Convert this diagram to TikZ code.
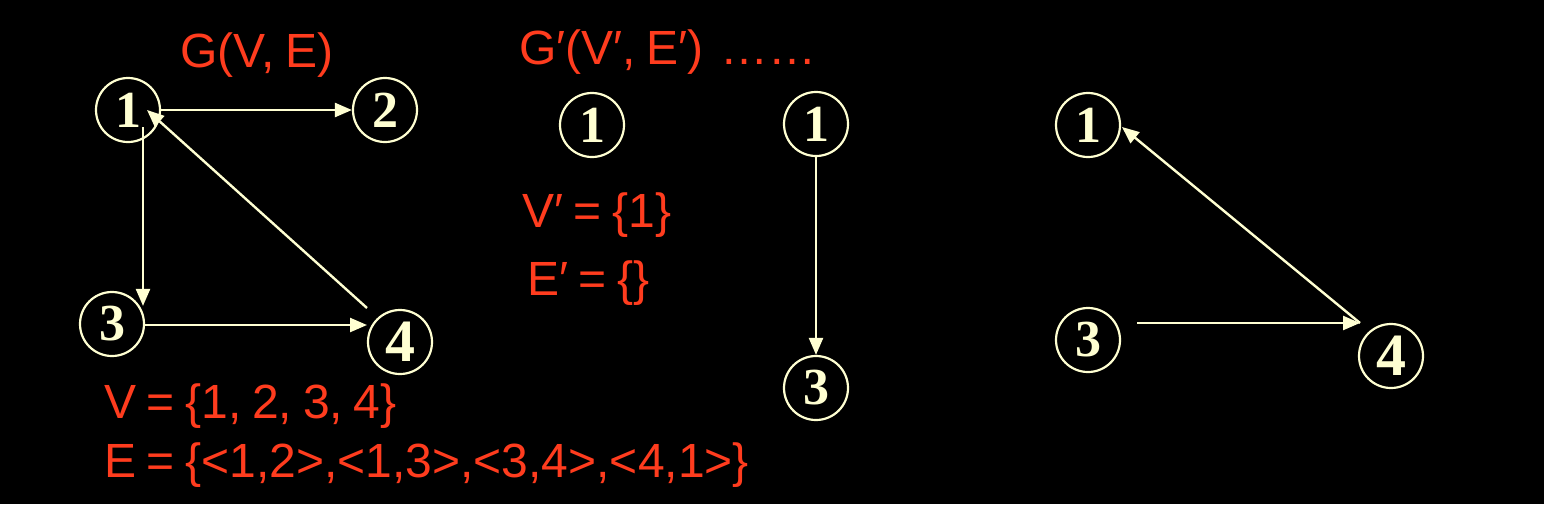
\documentclass[tikz,border=0pt]{standalone}
\usepackage{fontspec}
\setmainfont[WordSpace=0.8]{Liberation Sans}
\newfontfamily\digitfont{Liberation Serif}
\usetikzlibrary{arrows.meta,calc}
\definecolor{cream}{RGB}{255,255,210}
\definecolor{redtxt}{RGB}{255,60,30}
\begin{document}
\begin{tikzpicture}[x=1pt,y=-1pt,
  vert/.style={circle,draw=cream,line width=2.2pt,minimum size=64pt,inner sep=0pt,
    text=cream,font=\digitfont\bfseries\fontsize{52}{52}\selectfont},
  bigvert/.style={vert,font=\digitfont\bfseries\fontsize{60}{60}\selectfont},
  edge/.style={draw=cream,line width=2.4pt,-{Triangle[length=17pt,width=14pt]}},
  lbl/.style={text=redtxt,anchor=base west,inner sep=0pt,font=\fontsize{48}{50}\selectfont}]
\useasboundingbox (0,0) rectangle (1544,504);
\fill[black] (0,0) rectangle (1544,504);
% graph G
\node[vert] (a1) at (128,110) {1};
\node[vert] (a2) at (385,110) {2};
\node[vert] (a3) at (112,324) {3};
\node[bigvert] (a4) at (400,342) {4};
\draw[edge] (a1.east) -- (a2.west);
\draw[edge] ($(a1.center)+(15,17)$) -- ($(a3.north)+(31,15)$);
\draw[edge] ($(a3.center)+(33,1)$) -- ($(a4.center)+(-33,-17)$);
\draw[edge] ($(a4.center)+(-33,-34)$) -- ($(a1.center)+(19,0)$);
\node[lbl] (tG) at (180,67) {G(V, E)};
\node[lbl] (tV) at (104,418) {V = \{1, 2, 3, 4\}};
\node[lbl] (tE) at (104,477) {E = \{<1,2>,<1,3>,<3,4>,<4,1>\}};
% subgraphs
\node[lbl] (tG2) at (519,64) {G′(V′, E′)};
\node[lbl] (dots) at (720,64) {……};
\node[vert] (b1) at (592,125) {1};
\node[lbl] (tV2) at (522,227) {V′ = \{1\}};
\node[lbl] (tE2) at (527,295) {E′ = \{\}};
\node[vert] (c1) at (816,124) {1};
\node[vert] (c3) at (816,388) {3};
\draw[edge] (c1.south) -- (c3.north);
% right graph
\node[vert] (d1) at (1088,125) {1};
\node[vert] (d3) at (1088,340) {3};
\node[bigvert] (d4) at (1391,356) {4};
\draw[edge] ($(d3.center)+(49,-17)$) -- ($(d4.center)+(-31,-33)$);
\draw[edge] ($(d4.center)+(-31,-33)$) -- ($(d1.center)+(34,2)$);
\end{tikzpicture}
\end{document}
